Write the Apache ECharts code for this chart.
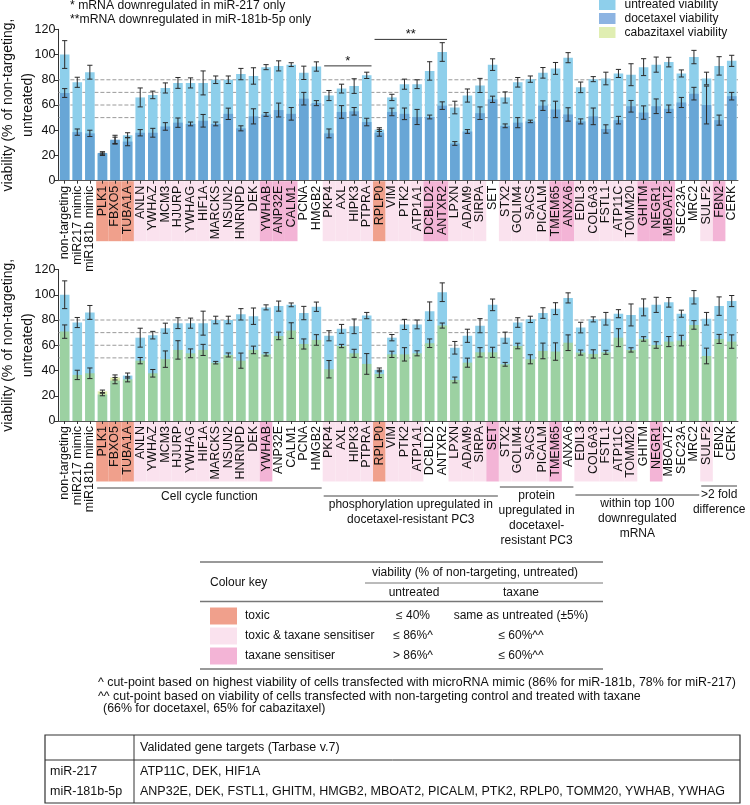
<!DOCTYPE html>
<html><head><meta charset="utf-8">
<script src="https://cdn.jsdelivr.net/npm/echarts@6/dist/echarts.min.js"></script>
<style>html,body{margin:0;padding:0;background:#fff}#c{width:750px;height:805px}</style>
</head><body><div id="c"></div>
<script>
// ---------- data ----------
const categories = ['non-targeting','miR217 mimic','miR181b mimic','PLK1','FBXO5','TUBA1A','ANLN','YWHAZ','MCM3','HJURP','YWHAG','HIF1A','MARCKS','NSUN2','HNRNPD','DEK','YWHAB','ANP32E','CALM1','PCNA','HMGB2','PKP4','AXL','HIPK3','PTPRA','RPLP0','VIM','PTK2','ATP1A1','DCBLD2','ANTXR2','LPXN','ADAM9','SIRPA','SET','STX2','GOLIM4','SACS','PICALM','TMEM65','ANXA6','EDIL3','COL6A3','FSTL1','ATP11C','TOMM20','GHITM','NEGR1','MBOAT2','SEC23A','MRC2','SULF2','FBN2','CERK'];
const untreated = [100,78,86,21,32,36,66,68,73.5,77.5, 77.5,77.5,80,80,84.5,83,90,91,92,85.5, 90.5,67.5,73,75,83.5,40.5,66,76.5,76.5,87, 102,58,67.5,75.5,92,66,78,80.5,85.5,89, 97.5,74,80.5,81,85,84,90,92,94,85, 98,81,91,95];
const untreatedErr = [11,4,5.5,1,2.5,2,7.5,3,4,4.3, 4,9.5,3,3,4.5,6.5,2,4,1.5,5.3, 3.7,4,3.5,5.8,2.5,1.5,2.5,4,3.5,7.3, 7.4,5,5.2,5.6,4.6,4.4,3.8,2.5,4.2,4.7, 4,4.2,2,5,3.2,8.7,6.7,6,3.8,2.8, 5.3,5,7.3,4.4];
const docetaxel = [69.5,38.5,37.5,22,32.5,31,38,38,43,46, 45,47.5,45,53,41.5,51,52.5,56,53,65, 61.5,37.5,54.5,55,46.5,38,54.5,53,50.5,50.5, 59.5,29.5,39,53.5,64.5,43.5,46,47,59.5,56.5, 52.5,47,51,41,48,59,54,59,57,62, 69,60,48,67];
const docetaxelErr = [3.5,2.5,2.5,1,3.5,3.3,2.5,3.5,3,3.7, 1.5,5,1.5,4.5,2,6,1.5,5.5,5,5, 2,3.5,5,3,3,2.7,3,4.6,6,1.5, 3,1.5,1.5,5,2.5,1.5,4,1,3.8,6.5, 5.3,2,6.6,3.3,3,4.6,5.3,5.8,3,4, 5,15,4,3];
const cabazitaxel = [70.8,36.5,37.8,23.5,34.5,33,47.8,37.8,49,56.3, 53.6,56.3,46.2,52.3,47.8,56.3,52.8,67.4,71.6,61, 64.2,41,59.4,53.6,45.2,37.3,52.8,52.8,53.6,61.6, 75.6,32.5,46.2,54.4,54.4,44.9,59.4,48.9,55.5,55, 62,54.2,53.1,54.4,66,56.3,65,60.2,62.9,63.7, 76.1,51.5,65,62.9];
const cabazitaxelErr = [5.3,3.7,4.2,1,2,2,2.5,3,6.5,7.3, 3.5,4.4,1,1.6,6,3,1.3,3,6.2,4, 4.2,6.9,1.3,3.2,8.2,2.9,2.5,5.3,2,3.4, 2,2.3,3.6,3.7,4,1.5,2.2,3.6,6.2,6.9, 6.2,2,3.3,1.6,7.1,1.7,1.8,2.6,4,4.2, 3.4,6.2,3.6,5.3];
// label class: 0 none, 1 toxic, 2 toxic & taxane sensitiser, 3 taxane sensitiser
const docetaxelClass = [0,0,0,1,1,1,2,2,2,2, 2,2,2,2,2,2,3,3,3,0, 0,2,2,2,2,1,2,2,2,3, 3,2,2,2,0,2,2,2,2,3, 3,2,2,2,2,2,3,3,3,0, 0,2,3,0];
const cabazitaxelClass = [0,0,0,1,1,1,2,2,2,2, 2,2,2,2,2,2,3,0,0,0, 0,2,2,2,2,1,2,2,2,0, 0,2,2,2,3,2,2,2,2,3, 0,2,2,2,2,2,0,3,0,0, 0,2,0,0];
const yMin = 0, yMax = 120, yInterval = 20;
const refLines = [50, 60, 70, 80];
const sigLabels = ['*', '**'];
const sigFrom = ['PKP4', 'RPLP0'];
const sigTo = ['PTPRA', 'ANTXR2'];
const sigHeight = [91, 112];
const groupNames = ['Cell cycle function', 'phosphorylation upregulated in\ndocetaxel-resistant PC3', 'protein\nupregulated in\ndocetaxel-\nresistant PC3', 'within top 100\ndownregulated\nmRNA', '>2 fold\ndifference'];
const groupFrom = ['PLK1', 'PKP4', 'STX2', 'EDIL3', 'SULF2'];
const groupTo = ['HMGB2', 'SET', 'ANXA6', 'MRC2', 'CERK'];
const seriesNames = ['untreated viability', 'docetaxel viability', 'cabazitaxel viability'];
const notes = ['* mRNA downregulated in miR-217 only', '**mRNA downregulated in miR-181b-5p only'];
const keyLabels = ['toxic', 'toxic & taxane sensitiser', 'taxane sensitiser'];
const keyUntreated = ['\u2264 40%', '\u2264 86%^', '> 86%^'];
const keyTaxane = ['same as untreated (\u00b15%)', '\u2264 60%^^', '\u2264 60%^^'];
const footnotes = ['^ cut-point based on highest viability of cells transfected with microRNA mimic (86% for miR-181b, 78% for miR-217)', '^^ cut-point based on viability of cells transfected with non-targeting control and treated with taxane', '(66% for docetaxel, 65% for cabazitaxel)'];
const targetMirnas = ['miR-217', 'miR-181b-5p'];
const targetGenes = ['ATP11C, DEK, HIF1A', 'ANP32E, DEK, FSTL1, GHITM, HMGB2, MBOAT2, PICALM, PTK2, RPLP0, TOMM20, YWHAB, YWHAG'];

// ---------- styles ----------
const FONT = '"Liberation Sans", Arial, Helvetica, sans-serif';
const C_UNT = '#8ECFEB', C_DOC = '#68A6D6', C_DOC_LEG = '#8DB4E2', C_CAB = 'rgba(177,212,62,0.42)', C_CAB_LEG = '#E0EEB2';
const classColors = [null, '#F0A08C', '#FAE2EE', '#F3B4D6'];
const groupLineOffset = [67, 75, 66, 74, 65];
const bandHeight = 60;
const catIdx = n => categories.indexOf(n);

function errRender(params, api) {
  const i = api.value(0), v = api.value(1), e = api.value(2);
  const a = api.coord([i, v + e]), b = api.coord([i, v - e]);
  const c = 2.6;
  const st = () => ({ stroke: '#2a2a2a', lineWidth: 1 });
  return { type: 'group', children: [
    { type: 'line', shape: { x1: a[0], y1: a[1], x2: b[0], y2: b[1] }, style: st() },
    { type: 'line', shape: { x1: a[0] - c, y1: a[1], x2: a[0] + c, y2: a[1] }, style: st() },
    { type: 'line', shape: { x1: b[0] - c, y1: b[1], x2: b[0] + c, y2: b[1] }, style: st() }
  ] };
}
function refRender(params, api) {
  const p = api.coord([0, api.value(1)]);
  const cs = params.coordSys;
  return { type: 'line', shape: { x1: cs.x, y1: p[1], x2: cs.x + cs.width, y2: p[1] },
    style: { stroke: '#9a9a9a', lineWidth: 1, lineDash: [4, 2] } };
}
function bandRender(classes) {
  return function (params, api) {
    const i = api.value(0);
    const cls = classes[i];
    if (!cls) return null;
    const p = api.coord([i, 0]);
    const w = api.size([1, 0])[0];
    return { type: 'rect', shape: { x: p[0] - w / 2, y: p[1] + 0.5, width: w, height: bandHeight },
      style: { fill: classColors[cls] } };
  };
}
function sigRender(params, api) {
  const k = api.value(3);
  const a = api.coord([api.value(0), api.value(2)]), b = api.coord([api.value(1), api.value(2)]);
  const hw = api.size([1, 0])[0] * 0.38;
  return { type: 'group', children: [
    { type: 'line', shape: { x1: a[0] - hw, y1: a[1], x2: b[0] + hw, y2: b[1] }, style: { stroke: '#333', lineWidth: 1 } },
    { type: 'text', x: (a[0] + b[0]) / 2, y: a[1] + 2, style: { text: sigLabels[k], font: '13px ' + FONT, fill: '#111',
      align: 'center', textAlign: 'center', verticalAlign: 'bottom', textVerticalAlign: 'bottom' } }
  ] };
}
function groupRender(params, api) {
  const k = api.value(3);
  const a = api.coord([api.value(0), 0]), b = api.coord([api.value(1), 0]);
  const hw = api.size([1, 0])[0] / 2;
  const y = a[1] + groupLineOffset[k];
  return { type: 'group', children: [
    { type: 'line', shape: { x1: a[0] - hw + 1, y1: y, x2: b[0] + hw - 1, y2: y }, style: { stroke: '#444', lineWidth: 1 } },
    { type: 'text', x: (a[0] + b[0]) / 2, y: y + 1.5, style: { text: groupNames[k], font: '12px ' + FONT, fill: '#111',
      lineHeight: 15, align: 'center', textAlign: 'center', verticalAlign: 'top', textVerticalAlign: 'top' } }
  ] };
}

const grids = [
  { left: 58.4, right: 12, top: 29.3, height: 151.4, outerBoundsMode: 'none' },
  { left: 58.4, right: 12, top: 269.5, height: 151.5, outerBoundsMode: 'none' }
];
const xAxes = grids.map((g, gi) => ({
  type: 'category', gridIndex: gi, data: categories, z: 6,
  axisLine: { lineStyle: { color: '#555', width: 1 } },
  axisTick: { show: true, alignWithLabel: true, length: 3, lineStyle: { color: '#333' } },
  axisLabel: { interval: 0, rotate: 90, margin: 5, fontSize: 12.5, fontFamily: FONT, color: '#111' },
  splitLine: { show: false }
}));
const yAxes = grids.map((g, gi) => ({
  type: 'value', gridIndex: gi, min: yMin, max: yMax, interval: yInterval,
  name: 'viability (% of non-targeting,\nuntreated)', nameLocation: 'middle', nameGap: 21, nameMoveOverlap: false,
  nameTextStyle: { fontSize: 14, lineHeight: 19.5, fontFamily: FONT, color: '#111' },
  axisLine: { show: true, lineStyle: { color: '#333', width: 1 } },
  axisTick: { show: true, length: 4, lineStyle: { color: '#333' } },
  axisLabel: { fontSize: 12.5, fontFamily: FONT, color: '#111', margin: 3 },
  splitLine: { show: false }
}));

const series = [];
const treated = [[docetaxel, docetaxelErr, seriesNames[1], C_DOC, docetaxelClass], [cabazitaxel, cabazitaxelErr, seriesNames[2], C_CAB, cabazitaxelClass]];
treated.forEach((t, gi) => {
  series.push({ type: 'custom', xAxisIndex: gi, yAxisIndex: gi, z: 1, silent: true, renderItem: refRender,
    encode: { x: 0, y: 1 }, data: refLines.map(v => [0, v]) });
  series.push({ type: 'custom', xAxisIndex: gi, yAxisIndex: gi, z: 1, silent: true, renderItem: bandRender(t[4]),
    encode: { x: 0, y: 1 }, data: categories.map((c, i) => [i, 0]) });
  series.push({ type: 'bar', name: seriesNames[0], xAxisIndex: gi, yAxisIndex: gi, z: 2, barWidth: '76%', barGap: '-100%',
    itemStyle: { color: C_UNT }, data: untreated, silent: true });
  series.push({ type: 'bar', name: t[2], xAxisIndex: gi, yAxisIndex: gi, z: 3, barWidth: '76%', barGap: '-100%',
    itemStyle: { color: t[3] }, data: t[0], silent: true });
  series.push({ type: 'custom', xAxisIndex: gi, yAxisIndex: gi, z: 4, silent: true, renderItem: errRender,
    encode: { x: 0, y: 1 }, data: untreated.map((v, i) => [i, v, untreatedErr[i]]) });
  series.push({ type: 'custom', xAxisIndex: gi, yAxisIndex: gi, z: 4, silent: true, renderItem: errRender,
    encode: { x: 0, y: 1 }, data: t[0].map((v, i) => [i, v, t[1][i]]) });
});
series.push({ type: 'custom', xAxisIndex: 0, yAxisIndex: 0, z: 5, silent: true, renderItem: sigRender,
  encode: { x: [0, 1], y: 2 }, data: sigLabels.map((s, k) => [catIdx(sigFrom[k]), catIdx(sigTo[k]), sigHeight[k], k]) });
series.push({ type: 'custom', xAxisIndex: 1, yAxisIndex: 1, z: 5, silent: true, renderItem: groupRender,
  encode: { x: [0, 1], y: 2 }, data: groupNames.map((s, k) => [catIdx(groupFrom[k]), catIdx(groupTo[k]), 0, k]) });

// ---------- graphic (annotations & tables) ----------
function T(x, y, text, opt) {
  const o = opt || {};
  const al = o.align || 'left';
  return { type: 'text', x: x, y: y, silent: true, z: 10,
    style: { text: text, font: (o.size || 12) + 'px ' + FONT, fill: o.fill || '#111',
      align: al, textAlign: al, verticalAlign: 'middle', textVerticalAlign: 'middle' } };
}
function L(x1, y1, x2, y2, w, c) {
  return { type: 'line', silent: true, z: 10, shape: { x1: x1, y1: y1, x2: x2, y2: y2 }, style: { stroke: c || '#777', lineWidth: w || 1 } };
}
function R(x, y, w, h, fill, stroke) {
  return { type: 'rect', silent: true, z: 9, shape: { x: x, y: y, width: w, height: h },
    style: { fill: fill, stroke: stroke || null, lineWidth: stroke ? 1.2 : 0 } };
}
const g = [];
g.push(T(70, 5.5, notes[0], { size: 12.2 }));
g.push(T(70, 19.5, notes[1], { size: 12.2 }));
// colour key table
g.push(L(200, 562, 603, 562, 1.5));
g.push(T(210, 583, 'Colour key'));
g.push(T(475, 573, 'viability (% of non-targeting, untreated)', { align: 'center' }));
g.push(L(365, 583, 603, 583, 1));
g.push(T(414, 593, 'untreated', { align: 'center' }));
g.push(T(521, 593, 'taxane', { align: 'center' }));
g.push(L(200, 601.5, 603, 601.5, 1.5));
keyLabels.forEach((k, i) => {
  const y = 616 + i * 20;
  g.push(R(210, y - 8.5, 27, 17, classColors[i + 1]));
  g.push(T(245, y, k));
  g.push(T(413, y, keyUntreated[i], { align: 'center' }));
  g.push(T(521, y, keyTaxane[i], { align: 'center' }));
});
g.push(L(200, 669, 603, 669, 1.5));
g.push(T(98, 683, footnotes[0], { size: 12.4 }));
g.push(T(98, 697, footnotes[1], { size: 12.4 }));
g.push(T(103, 709, footnotes[2], { size: 12.4 }));
// gene targets table
g.push(R(45, 735, 695, 68, 'rgba(0,0,0,0)', '#333'));
g.push(L(134, 735, 134, 803, 1, '#333'));
g.push(L(45, 760, 740, 760, 1, '#333'));
g.push(T(140, 748, 'Validated gene targets (Tarbase v.7)', { size: 12.5 }));
targetMirnas.forEach((m, i) => {
  const y = 772 + i * 20;
  g.push(T(50, y, m, { size: 12.5 }));
  g.push(T(140, y, targetGenes[i], { size: 12.5 }));
});

const chart = echarts.init(document.getElementById('c'), null, { renderer: 'canvas' });
chart.setOption({
  animation: false,
  backgroundColor: '#fff',
  textStyle: { fontFamily: FONT },
  tooltip: { show: false },
  legend: {
    orient: 'vertical', left: 599, top: -1.5, padding: 0, itemWidth: 16.5, itemHeight: 11, itemGap: 2,
    icon: 'rect', selectedMode: false,
    textStyle: { fontSize: 12, fontFamily: FONT, color: '#111', padding: [0, 0, 0, 4] },
    data: [
      { name: seriesNames[0], itemStyle: { color: C_UNT } },
      { name: seriesNames[1], itemStyle: { color: C_DOC_LEG } },
      { name: seriesNames[2], itemStyle: { color: C_CAB_LEG } }
    ]
  },
  grid: grids,
  xAxis: xAxes,
  yAxis: yAxes,
  series: series,
  graphic: { elements: g }
});
</script></body></html>
